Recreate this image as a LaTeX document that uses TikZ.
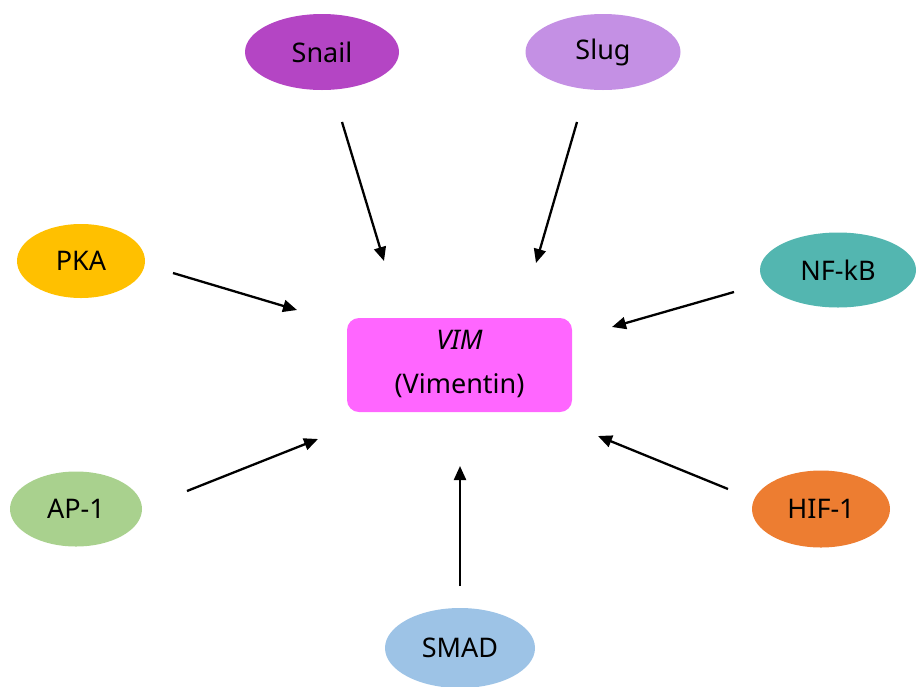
\documentclass[tikz,border=0pt]{standalone}
\usepackage{fontspec}
\setmainfont{Noto Sans}
\usetikzlibrary{arrows.meta,shapes.geometric}
\definecolor{snailc}{HTML}{B445C4}
\definecolor{slugc}{HTML}{C490E4}
\definecolor{pkac}{HTML}{FFC000}
\definecolor{nfkbc}{HTML}{53B6B0}
\definecolor{vimc}{HTML}{FF66FF}
\definecolor{apc}{HTML}{A9D18E}
\definecolor{hifc}{HTML}{ED7D31}
\definecolor{smadc}{HTML}{9DC3E6}
\tikzset{
  labelfont/.style={font=\fontsize{27}{32}\selectfont},
  factor/.style={ellipse, inner sep=0pt, minimum width=#1, minimum height=76pt, labelfont},
  factor/.default=150pt,
  target/.style={draw=none, rounded corners=12pt, minimum width=225pt, minimum height=94pt,
    inner sep=0pt, fill=vimc},
  regarrow/.style={line width=2.3pt, -{Triangle[length=14pt,width=12pt]}}
}
\begin{document}
\begin{tikzpicture}[x=1pt,y=-1pt]
\useasboundingbox (0,0) rectangle (917,686);
% central gene box
\node[target] (vim) at (459.5,365) {};
\node[labelfont, font=\fontsize{27}{32}\selectfont\itshape] (vimname) at (459.5,340) {VIM};
\node[labelfont] (vimprot) at (459.5,386) {(Vimentin)};
% regulators
\node[factor=154pt, fill=snailc] (snail) at (322,52) {Snail};
\node[factor=155pt, fill=slugc] (slug) at (603,52) {Slug};
\node[factor=128pt, fill=pkac, minimum height=74pt] (pka) at (81,261) {PKA};
\node[factor=156pt, fill=nfkbc, minimum height=75pt] (nfkb) at (838,270) {NF-kB};
\node[factor=132pt, fill=apc, minimum height=75pt] (ap1) at (76,509) {AP-1};
\node[factor=138pt, fill=hifc, minimum height=77pt] (hif1) at (821,509) {HIF-1};
\node[factor=150pt, fill=smadc, minimum height=80pt] (smad) at (460,648) {SMAD};
% arrow end points
\coordinate (snailA) at (342,122); \coordinate (snailB) at (384,261);
\coordinate (slugA) at (577,122);  \coordinate (slugB) at (536,263);
\coordinate (pkaA) at (173,273);   \coordinate (pkaB) at (297,310);
\coordinate (nfkbA) at (734,292);  \coordinate (nfkbB) at (612,327);
\coordinate (apA) at (187,491);    \coordinate (apB) at (318,439);
\coordinate (hifA) at (728,489);   \coordinate (hifB) at (598,436);
\coordinate (smadA) at (460,586);  \coordinate (smadB) at (460,466);
% regulatory arrows
\draw[regarrow] (snailA) -- (snailB);
\draw[regarrow] (slugA) -- (slugB);
\draw[regarrow] (pkaA) -- (pkaB);
\draw[regarrow] (nfkbA) -- (nfkbB);
\draw[regarrow] (apA) -- (apB);
\draw[regarrow] (hifA) -- (hifB);
\draw[regarrow] (smadA) -- (smadB);
\end{tikzpicture}
\end{document}
